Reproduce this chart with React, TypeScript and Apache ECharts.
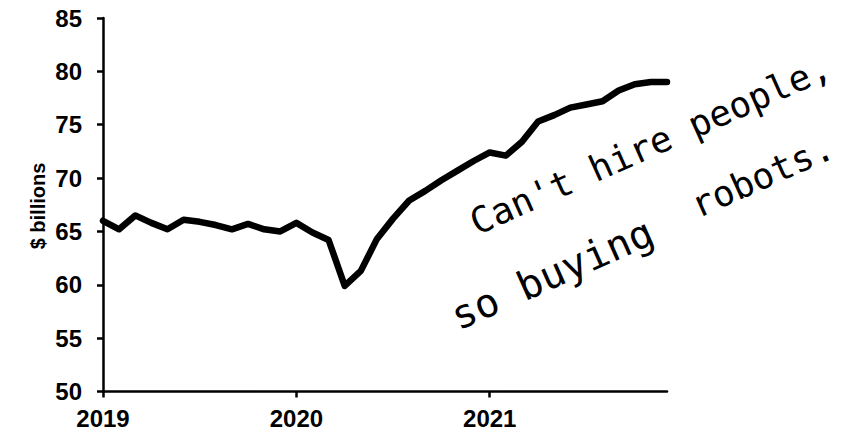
import React, { useEffect, useRef } from 'react';
import * as echarts from 'echarts';

const years = ['2019', '2020', '2021'];
const monthNumbers = ['01', '02', '03', '04', '05', '06', '07', '08', '09', '10', '11', '12'];
const months = years.flatMap((y) => monthNumbers.map((m) => `${y}-${m}`));

const values2019 = [66.0, 65.2, 66.5, 65.8, 65.2, 66.1, 65.9, 65.6, 65.2, 65.7, 65.2, 65.0];
const values2020 = [65.8, 64.9, 64.2, 59.9, 61.3, 64.3, 66.2, 67.9, 68.8, 69.8, 70.7, 71.6];
const values2021 = [72.4, 72.1, 73.4, 75.3, 75.9, 76.6, 76.9, 77.2, 78.2, 78.8, 79.0, 79.0];
const values = [...values2019, ...values2020, ...values2021];

const yMin = 50;
const yMax = 85;
const yStep = 5;
const yAxisTitle = '$ billions';

const noteLine1 = "Can't hire people,";
const noteLine2a = 'so buying';
const noteLine2b = 'robots.';

export default function App() {
  const ref = useRef<HTMLDivElement>(null);

  useEffect(() => {
    document.body.style.margin = '0';
    const chart = echarts.init(ref.current!, null, { renderer: 'svg' });
    const labelFont = { fontFamily: 'Liberation Sans, Arial, sans-serif', fontWeight: 'bold' as const, fontSize: 24, color: '#000' };
    const rot = (24 * Math.PI) / 180;
    const mono = 'DejaVu Sans Mono, monospace';
    chart.setOption({
      animation: false,
      backgroundColor: '#fff',
      grid: { left: 103, right: 177, top: 18, bottom: 45.5, containLabel: false },
      xAxis: {
        type: 'category',
        data: months,
        boundaryGap: false,
        axisLine: { show: true, lineStyle: { color: '#000', width: 2.5 } },
        axisTick: { show: true, length: 6, interval: (i: number) => i % 12 === 0, lineStyle: { color: '#000', width: 2.5 } },
        axisLabel: { ...labelFont, margin: 15, interval: (i: number) => i % 12 === 0, formatter: (v: string) => v.slice(0, 4) },
        splitLine: { show: false },
      },
      yAxis: {
        type: 'value',
        min: yMin,
        max: yMax,
        interval: yStep,
        axisLine: { show: true, lineStyle: { color: '#000', width: 2.5 } },
        axisTick: { show: true, length: 6, lineStyle: { color: '#000', width: 2.5 } },
        axisLabel: { ...labelFont, margin: 21 },
        splitLine: { show: false },
      },
      series: [
        {
          type: 'line',
          data: values,
          showSymbol: false,
          symbol: 'none',
          lineStyle: { color: '#000', width: 6.5, cap: 'round', join: 'round' },
        },
      ],
      graphic: [
        {
          type: 'text', x: 38, y: 206, rotation: Math.PI / 2,
          style: {
            text: yAxisTitle, fontSize: 20, fontWeight: 'bold', fontFamily: 'Liberation Sans, Arial, sans-serif',
            fill: '#000', align: 'center', verticalAlign: 'middle',
          },
        },
        { type: 'text', x: 472, y: 224, rotation: rot, style: { text: noteLine1, fontSize: 36, fontFamily: mono, fill: '#000', align: 'left', verticalAlign: 'middle' } },
        { type: 'text', x: 453, y: 318, rotation: rot, style: { text: noteLine2a, fontSize: 40, fontFamily: mono, fill: '#000', align: 'left', verticalAlign: 'middle' } },
        { type: 'text', x: 693, y: 207, rotation: rot, style: { text: noteLine2b, fontSize: 36, fontFamily: mono, fill: '#000', align: 'left', verticalAlign: 'middle' } },
      ],
    });
    return () => chart.dispose();
  }, []);

  return <div ref={ref} style={{ width: 844, height: 437, position: 'absolute', left: 0, top: 0 }} />;
}
